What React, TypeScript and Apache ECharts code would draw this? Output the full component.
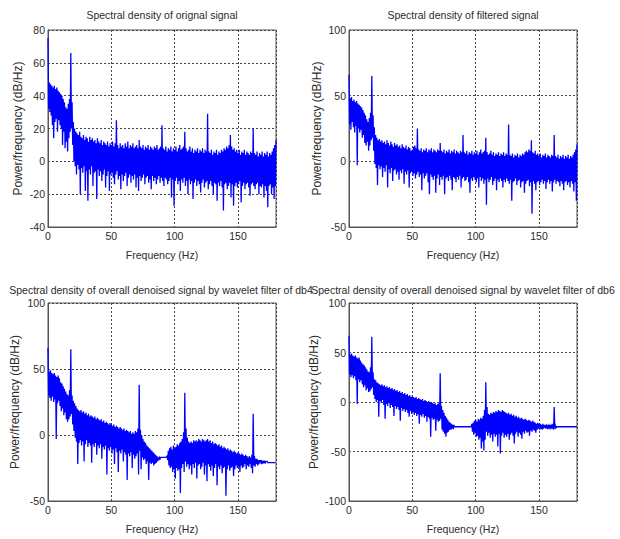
import React, { useEffect, useRef } from "react";
import * as echarts from "echarts";

// Frequency axis: 0..180 Hz, one upper and one lower reading of the noisy PSD band per Hz
const FREQ_MIN = 0;
const FREQ_MAX = 180;
const FREQ_TICK = 50;

const TITLES = [
  "Spectral density of orignal signal",
  "Spectral density of filtered signal",
  "Spectral density of overall denoised signal by wavelet filter of db4",
  "Spectral density of overall denoised signal by wavelet filter of db6",
];
const X_NAME = "Frequency (Hz)";
const Y_NAME = "Power/frequency (dB/Hz)";
const Y_MIN = [-40, -50, -50, -100];
const Y_MAX = [80, 100, 100, 100];
const Y_STEP = [20, 50, 50, 50];

// Original signal
const P1_HI = [
  75, 48, 47, 46, 45, 46, 44, 45, 43, 42,
  41, 40, 38, 36, 33, 32, 35, 38, 66, 36,
  24, 20, 18, 17, 16, 18, 15, 14, 16, 13,
  15, 14, 12, 15, 13, 14, 12, 13, 11, 14,
  12, 11, 13, 10, 12, 11, 10, 12, 9, 11,
  10, 12, 9, 11, 25, 10, 8, 11, 9, 10,
  8, 11, 9, 12, 8, 10, 9, 11, 8, 9,
  10, 8, 13, 9, 8, 10, 7, 9, 8, 10,
  7, 9, 8, 7, 9, 8, 10, 7, 8, 9,
  22, 8, 7, 9, 6, 8, 7, 9, 6, 8,
  7, 9, 6, 8, 10, 7, 8, 9, 18, 8,
  6, 7, 9, 6, 8, 5, 7, 6, 8, 5,
  7, 6, 8, 5, 7, 6, 29, 6, 5, 7,
  4, 6, 5, 7, 4, 6, 5, 7, 6, 8,
  7, 9, 8, 10, 16, 9, 7, 8, 6, 7,
  5, 7, 4, 6, 5, 7, 4, 6, 5, 4,
  6, 5, 20, 5, 4, 6, 3, 5, 4, 6,
  3, 5, 4, 6, 3, 5, 4, 6, 8, 10,
  13,
];
const P1_LO = [
  32, 30, 28, 22, 14, 24, 26, 18, 25, 22,
  20, 10, 18, 8, 12, 6, 14, 18, 20, 10,
  0, -3, -8, -2, -5, -20, -4, -7, -3, -18,
  -6, -24, -5, -8, -3, -15, -7, -6, -23, -5,
  -9, -6, -12, -8, -5, -16, -9, -6, -18, -8,
  -7, -10, -14, -8, -6, -11, -9, -17, -8, -12,
  -9, -7, -15, -10, -8, -13, -9, -11, -8, -16,
  -10, -18, -9, -12, -10, -8, -14, -10, -9, -13,
  -11, -17, -9, -12, -10, -14, -11, -9, -13, -10,
  -12, -15, -10, -11, -14, -12, -10, -22, -11, -27,
  -12, -10, -14, -12, -18, -11, -13, -10, -15, -12,
  -20, -11, -14, -12, -23, -13, -11, -15, -12, -14,
  -19, -13, -11, -16, -13, -12, -17, -14, -12, -15,
  -20, -13, -14, -24, -13, -15, -12, -16, -30, -14,
  -13, -17, -15, -13, -22, -14, -27, -15, -13, -16,
  -14, -12, -25, -15, -13, -17, -14, -13, -16, -21,
  -14, -13, -15, -17, -14, -13, -20, -15, -16, -14,
  -22, -15, -18, -28, -15, -14, -20, -16, -23, -15,
  -12,
];

// Filtered signal
const P2_HI = [
  66, 48, 49, 46, 47, 45, 46, 44, 43, 42,
  41, 39, 37, 35, 32, 30, 33, 37, 65, 35,
  26, 20, 18, 16, 17, 15, 16, 14, 15, 13,
  16, 14, 12, 15, 13, 11, 14, 12, 13, 11,
  12, 10, 13, 11, 10, 12, 9, 11, 10, 8,
  9, 11, 12, 10, 25, 9, 8, 10, 7, 9,
  8, 10, 7, 9, 8, 10, 7, 9, 8, 7,
  9, 8, 14, 8, 7, 9, 6, 8, 7, 9,
  6, 8, 7, 9, 6, 8, 7, 6, 8, 7,
  20, 7, 6, 8, 5, 7, 6, 8, 5, 7,
  6, 8, 5, 7, 9, 6, 7, 8, 18, 7,
  5, 6, 8, 5, 7, 4, 6, 5, 7, 4,
  6, 5, 7, 4, 6, 5, 28, 5, 4, 6,
  3, 5, 4, 6, 3, 5, 4, 6, 5, 7,
  8, 7, 9, 8, 16, 7, 6, 8, 5, 6,
  4, 6, 3, 5, 4, 6, 3, 5, 4, 3,
  5, 4, 20, 4, 3, 5, 2, 4, 3, 5,
  2, 4, 3, 5, 2, 4, 3, 5, 7, 9,
  13,
];
const P2_LO = [
  28, 24, 30, 26, 22, 27, -3, 25, 22, 24,
  18, 20, 14, 12, 15, 8, 12, 16, 18, 8,
  -2, -5, -18, -3, -6, -4, -12, -5, -8, -3,
  -20, -6, -9, -5, -15, -7, -6, -10, -8, -14,
  -7, -9, -6, -17, -8, -10, -7, -20, -9, -8,
  -11, -9, -13, -10, -8, -12, -10, -22, -9, -13,
  -11, -9, -16, -25, -10, -12, -14, -11, -24, -13,
  -10, -18, -12, -14, -11, -25, -13, -12, -15, -11,
  -14, -22, -12, -13, -16, -12, -14, -11, -20, -13,
  -12, -15, -14, -12, -16, -24, -13, -15, -12, -14,
  -16, -13, -20, -12, -15, -13, -17, -14, -33, -13,
  -16, -14, -12, -18, -15, -13, -22, -14, -16, -13,
  -15, -20, -14, -16, -13, -15, -17, -14, -30, -16,
  -15, -13, -18, -15, -14, -20, -16, -15, -24, -17,
  -15, -14, -19, -16, -40, -15, -17, -22, -16, -15,
  -18, -16, -14, -17, -15, -21, -16, -14, -17, -15,
  -23, -16, -14, -17, -15, -16, -19, -15, -17, -22,
  -16, -15, -18, -16, -20, -15, -17, -23, -16, -30,
  -10,
];

// Wavelet db4 denoised
const P3_HI = [
  66, 48, 49, 47, 46, 47, 45, 44, 45, 43,
  40, 39, 37, 35, 33, 31, 30, 34, 65, 30,
  26, 24, 22, 20, 19, 18, 19, 17, 18, 16,
  17, 15, 16, 14, 15, 14, 13, 14, 12, 13,
  12, 11, 12, 10, 11, 9, 10, 9, 8, 9,
  8, 7, 8, 6, 7, 6, 5, 6, 5, 4,
  5, 3, 4, 3, 2, 3, 1, 2, 1, 3,
  2, 5, 38, 4, 0, -3, -5, -6, -8, -9,
  -10, -11, -12, -13, -14, -15, -16, -17, -17, -17,
  -17, -17, -17, -17, -16, -12, -10, -9, -11, -8,
  -10, -9, -7, -8, -6, -5, -3, 2, 32, 5,
  -2, -5, -6, -5, -6, -4, -5, -4, -5, -3,
  -4, -5, -3, -4, -5, -4, -3, -5, -4, -6,
  -5, -7, -6, -7, -8, -7, -9, -8, -10, -9,
  -10, -11, -10, -12, -11, -12, -13, -12, -13, -14,
  -13, -14, -15, -14, -15, -16, -15, -16, -17, -16,
  -17, -15, 16, -16, -18, -18, -19, -19, -19, -20,
  -20, -20, -20, -20, -21, -21, -21, -21, -21, -21,
  -21,
];
const P3_LO = [
  30, 28, 26, 29, 25, 27, -3, 24, 26, 22,
  18, 20, 15, 17, 12, 10, 12, 14, 16, 8,
  3, -2, -5, -22, -6, -4, -8, -5, -20, -7,
  -4, -9, -6, -8, -21, -7, -9, -6, -15, -8,
  -10, -7, -18, -9, -11, -8, -30, -10, -12, -9,
  -14, -11, -22, -10, -13, -28, -12, -14, -11, -20,
  -13, -15, -34, -14, -16, -13, -25, -15, -18, -16,
  -14, -30, -12, -26, -17, -19, -18, -22, -20, -34,
  -21, -22, -21, -23, -22, -21, -20, -19, -18, -17,
  -17, -17, -17, -17, -19, -23, -25, -24, -28, -26,
  -33, -25, -27, -26, -44, -25, -22, -28, -20, -24,
  -22, -26, -23, -30, -22, -25, -21, -33, -23, -22,
  -26, -24, -21, -30, -23, -35, -22, -24, -27, -23,
  -31, -25, -22, -38, -24, -26, -23, -29, -25, -24,
  -46, -26, -23, -27, -25, -24, -31, -26, -23, -25,
  -24, -28, -23, -25, -24, -22, -26, -23, -24, -22,
  -25, -29, -23, -24, -22, -23, -22, -21, -22, -21,
  -21, -21, -20, -21, -21, -21, -21, -21, -21, -21,
  -21,
];

// Wavelet db6 denoised
const P4_HI = [
  67, 48, 49, 47, 46, 47, 45, 44, 45, 42,
  40, 38, 37, 35, 33, 31, 30, 35, 66, 30,
  23, 22, 20, 19, 18, 17, 18, 16, 17, 15,
  16, 14, 15, 13, 14, 12, 13, 11, 12, 10,
  11, 9, 10, 8, 9, 7, 8, 6, 7, 5,
  6, 5, 4, 5, 3, 4, 3, 2, 3, 1,
  2, 1, 0, 1, -1, 0, -1, -2, -1, -3,
  -2, -1, 29, -4, -8, -11, -14, -16, -18, -20,
  -21, -22, -23, -24, -25, -25, -25, -25, -25, -25,
  -25, -25, -25, -25, -25, -25, -25, -22, -21, -19,
  -18, -20, -17, -18, -16, -17, -14, -8, 20, -5,
  -12, -13, -11, -12, -10, -11, -9, -10, -8, -9,
  -10, -8, -9, -10, -11, -12, -11, -13, -12, -14,
  -13, -15, -14, -16, -15, -17, -16, -17, -18, -17,
  -18, -19, -18, -19, -20, -19, -20, -21, -22, -21,
  -22, -22, -23, -22, -23, -23, -24, -23, -24, -23,
  -24, -22, -5, -24, -25, -25, -25, -25, -25, -25,
  -25, -25, -25, -25, -25, -25, -25, -25, -25, -25,
  -25,
];
const P4_LO = [
  28, 25, 27, 24, 26, 22, -2, 23, 20, 22,
  18, 15, 17, 12, 14, 10, 11, 13, 15, 7,
  3, 0, 2, -15, 1, -1, 2, -3, -17, -2,
  -4, -1, -6, -3, -5, -14, -4, -7, -5, -8,
  -19, -6, -9, -7, -10, -8, -11, -15, -9, -12,
  -10, -13, -11, -14, -12, -22, -13, -15, -12, -16,
  -14, -20, -15, -17, -35, -16, -18, -17, -29, -18,
  -20, -19, -17, -28, -30, -32, -35, -31, -30, -28,
  -28, -27, -26, -25, -25, -25, -25, -25, -25, -25,
  -25, -25, -25, -25, -25, -25, -25, -30, -33, -31,
  -35, -34, -38, -36, -47, -40, -49, -38, -30, -34,
  -31, -36, -33, -40, -32, -35, -33, -45, -32, -52,
  -34, -31, -36, -33, -35, -32, -38, -33, -31, -34,
  -42, -32, -30, -35, -31, -33, -37, -30, -32, -29,
  -31, -30, -34, -29, -30, -28, -29, -31, -28, -27,
  -28, -27, -28, -27, -26, -27, -26, -27, -26, -26,
  -27, -28, -27, -26, -25, -25, -25, -25, -25, -25,
  -25, -25, -25, -25, -25, -25, -25, -25, -25, -25,
  -25,
];

const HIS = [P1_HI, P2_HI, P3_HI, P4_HI];
const LOS = [P1_LO, P2_LO, P3_LO, P4_LO];

// upper reading at each whole Hz, lower reading half a Hz later
function band(hi: number[], lo: number[]): number[][] {
  const out: number[][] = [];
  for (let i = 0; i < hi.length; i++) {
    out.push([i, hi[i]]);
    if (i < hi.length - 1) out.push([i + 0.5, lo[i]]);
  }
  return out;
}

const FONT = "Liberation Sans, Arial, Helvetica, sans-serif";
const TXT = "#2b2b2b";

export default function App() {
  const ref = useRef<HTMLDivElement>(null);
  useEffect(() => {
    if (!ref.current) return;
    const chart = echarts.init(ref.current, undefined, { renderer: "svg" });
    const grids = [
      { left: 48, top: 30, width: 228, height: 197 },
      { left: 349, top: 30, width: 228, height: 197 },
      { left: 48, top: 303, width: 228, height: 198 },
      { left: 349, top: 303, width: 228, height: 198 },
    ];
    const titleCenters = [
      [162, 9],
      [463, 9],
      [161, 284],
      [463, 284],
    ];
    const yNameGap = [24, 26, 27, 29];
    const option: any = {
      animation: false,
      backgroundColor: "#ffffff",
      title: TITLES.map((t, i) => ({
        text: t,
        left: titleCenters[i][0],
        top: titleCenters[i][1],
        textAlign: "center",
        padding: 0,
        textStyle: { fontSize: 10.5, fontWeight: "normal", color: TXT, fontFamily: FONT },
      })),
      grid: grids.map((g) => ({
        ...g,
        show: true,
        borderColor: "#555",
        borderWidth: 1,
        containLabel: false,
      })),
      xAxis: grids.map((_, i) => ({
        type: "value",
        gridIndex: i,
        min: FREQ_MIN,
        max: FREQ_MAX,
        interval: FREQ_TICK,
        name: X_NAME,
        nameLocation: "middle",
        nameGap: 22,
        nameTextStyle: { fontSize: 10.5, color: TXT, fontFamily: FONT },
        axisLine: { show: true, onZero: false, lineStyle: { color: "#555" } },
        axisTick: { show: false },
        axisLabel: { fontSize: 10.5, color: TXT, fontFamily: FONT, margin: 3, showMaxLabel: false },
        splitLine: { show: true, lineStyle: { color: "#444", type: [2, 2], width: 1 } },
      })),
      yAxis: grids.map((_, i) => ({
        type: "value",
        gridIndex: i,
        min: Y_MIN[i],
        max: Y_MAX[i],
        interval: Y_STEP[i],
        name: Y_NAME,
        nameLocation: "middle",
        nameGap: yNameGap[i],
        nameTextStyle: { fontSize: 12, color: TXT, fontFamily: FONT },
        axisLine: { show: true, onZero: false, lineStyle: { color: "#555" } },
        axisTick: { show: false },
        axisLabel: { fontSize: 10.5, color: TXT, fontFamily: FONT, margin: 3 },
        splitLine: { show: true, lineStyle: { color: "#444", type: [2, 2], width: 1 } },
      })),
      series: HIS.map((hi, i) => ({
        type: "line",
        xAxisIndex: i,
        yAxisIndex: i,
        data: band(hi, LOS[i]),
        showSymbol: false,
        symbol: "none",
        clip: true,
        lineStyle: { color: "#0000ff", width: 1.3, join: "miter" },
        itemStyle: { color: "#0000ff" },
      })),
    };
    chart.setOption(option);
    return () => chart.dispose();
  }, []);
  return (
    <div
      ref={ref}
      style={{ position: "fixed", left: 0, top: 0, width: 620, height: 539, background: "#fff" }}
    />
  );
}
